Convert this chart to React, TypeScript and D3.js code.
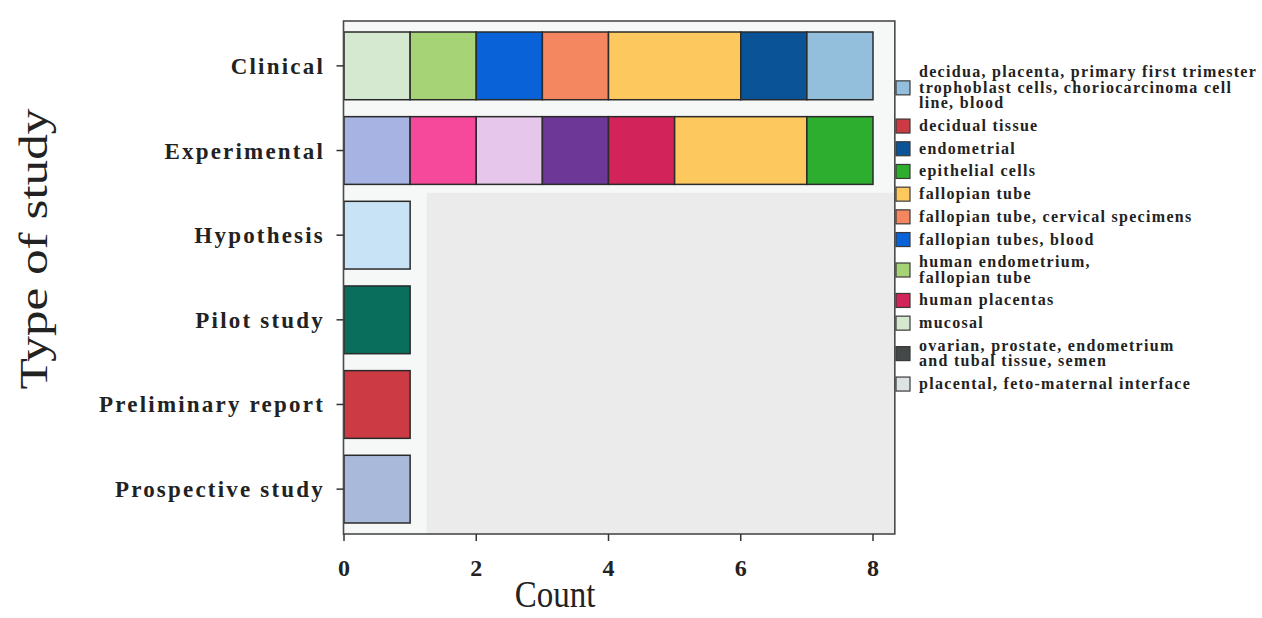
import React from "react";
import * as d3 from "d3";

// ---- data ----
const studyTypes = [
  "Clinical",
  "Experimental",
  "Hypothesis",
  "Pilot study",
  "Preliminary report",
  "Prospective study",
];

const clinicalTissues = [
  "mucosal",
  "human endometrium, fallopian tube",
  "fallopian tubes, blood",
  "fallopian tube, cervical specimens",
  "fallopian tube",
  "endometrial",
  "decidua, placenta, primary first trimester trophoblast cells, choriocarcinoma cell line, blood",
];
const clinicalCounts = [1, 1, 1, 1, 2, 1, 1];

const experimentalTissues = [
  "unlisted-1",
  "unlisted-2",
  "unlisted-3",
  "unlisted-4",
  "human placentas",
  "fallopian tube",
  "epithelial cells",
];
const experimentalCounts = [1, 1, 1, 1, 1, 2, 1];

const hypothesisTissues = ["unlisted-5"];
const hypothesisCounts = [1];
const pilotTissues = ["unlisted-6"];
const pilotCounts = [1];
const preliminaryTissues = ["decidual tissue"];
const preliminaryCounts = [1];
const prospectiveTissues = ["unlisted-7"];
const prospectiveCounts = [1];

const tissueKeys = [
  "decidua, placenta, primary first trimester trophoblast cells, choriocarcinoma cell line, blood",
  "decidual tissue",
  "endometrial",
  "epithelial cells",
  "fallopian tube",
  "fallopian tube, cervical specimens",
  "fallopian tubes, blood",
  "human endometrium, fallopian tube",
  "human placentas",
  "mucosal",
  "ovarian, prostate, endometrium and tubal tissue, semen",
  "placental, feto-maternal interface",
  "unlisted-1",
  "unlisted-2",
  "unlisted-3",
  "unlisted-4",
  "unlisted-5",
  "unlisted-6",
  "unlisted-7",
];
const tissueColors = [
  "#93bfdc",
  "#cc3a44",
  "#0a5396",
  "#2eae2e",
  "#fdc85e",
  "#f48660",
  "#0962d8",
  "#a7d377",
  "#d2245a",
  "#d5e9d0",
  "#444848",
  "#dde3e5",
  "#a7b3e2",
  "#f7499c",
  "#e6c6ea",
  "#6c3797",
  "#c8e3f6",
  "#0a6e5c",
  "#a9b9da",
];

// legend (as shown, wrapped)
const legendKeys = tissueKeys.slice(0, 12);
const legendLines = [
  ["decidua, placenta, primary first trimester", "trophoblast cells, choriocarcinoma cell", "line, blood"],
  ["decidual tissue"],
  ["endometrial"],
  ["epithelial cells"],
  ["fallopian tube"],
  ["fallopian tube, cervical specimens"],
  ["fallopian tubes, blood"],
  ["human endometrium,", "fallopian tube"],
  ["human placentas"],
  ["mucosal"],
  ["ovarian, prostate, endometrium", "and tubal tissue, semen"],
  ["placental, feto-maternal interface"],
];

const xTicks = [0, 2, 4, 6, 8];
const xTitle = "Count";
const yTitle = "Type of study";

const rows = [
  { study: studyTypes[0], tissues: clinicalTissues, counts: clinicalCounts },
  { study: studyTypes[1], tissues: experimentalTissues, counts: experimentalCounts },
  { study: studyTypes[2], tissues: hypothesisTissues, counts: hypothesisCounts },
  { study: studyTypes[3], tissues: pilotTissues, counts: pilotCounts },
  { study: studyTypes[4], tissues: preliminaryTissues, counts: preliminaryCounts },
  { study: studyTypes[5], tissues: prospectiveTissues, counts: prospectiveCounts },
];

const SERIF = "'Liberation Serif', 'Times New Roman', serif";

export default function App() {
  const W = 1262;
  const H = 618;
  const panelTop = 21;
  const panelBottom = 534;

  const x = d3.scaleLinear().domain([0, 8]).range([344, 873]);
  const panelLeft = x(0) - 0.5;
  const panelRight = x(8.33);
  const y = d3
    .scaleBand<string>()
    .domain(studyTypes)
    .range([panelTop, panelBottom])
    .paddingInner(0.2)
    .paddingOuter(0.13);
  const color = d3.scaleOrdinal<string, string>().domain(tissueKeys).range(tissueColors);

  const segments = rows.flatMap((r) => {
    const ends = d3.cumsum(r.counts);
    return r.tissues.map((t, i) => ({
      study: r.study,
      tissue: t,
      x0: ends[i] - r.counts[i],
      x1: ends[i],
    }));
  });

  const grayTop = (y(studyTypes[2]) as number) - (y.step() * 0.2) / 2;

  // legend layout
  const lineH = 15.5;
  const singleH = 22.7;
  let cursor = 61;
  const legendItems = legendKeys.map((k, i) => {
    const n = legendLines[i].length;
    const h = singleH + (n - 1) * lineH;
    const cy = cursor + h / 2;
    cursor += h;
    return { key: k, lines: legendLines[i], cy };
  });

  return (
    <svg width={W} height={H} style={{ display: "block", position: "absolute", left: 0, top: 0 }}>
      <rect x={0} y={0} width={W} height={H} fill="#ffffff" />
      {/* panel */}
      <rect x={panelLeft} y={panelTop} width={panelRight - panelLeft} height={panelBottom - panelTop} fill="#f6f8f8" />
      <rect x={x(1.25)} y={grayTop} width={panelRight - x(1.25)} height={panelBottom - grayTop} fill="#ebebeb" />

      {/* bars */}
      {segments.map((s, i) => (
        <rect
          key={i}
          x={x(s.x0)}
          y={y(s.study)}
          width={x(s.x1) - x(s.x0)}
          height={y.bandwidth()}
          fill={color(s.tissue)}
          stroke="#2a2a2a"
          strokeWidth={1.5}
        />
      ))}

      <rect
        x={panelLeft}
        y={panelTop}
        width={panelRight - panelLeft}
        height={panelBottom - panelTop}
        fill="none"
        stroke="#4a4a4a"
        strokeWidth={1.6}
      />

      {/* x axis */}
      {xTicks.map((t) => (
        <g key={t}>
          <line x1={x(t)} x2={x(t)} y1={panelBottom} y2={panelBottom + 7} stroke="#333" strokeWidth={1.5} />
          <text
            x={x(t)}
            y={576}
            textAnchor="middle"
            fontFamily={SERIF}
            fontWeight="bold"
            fontSize={24}
            fill="#222"
          >
            {t}
          </text>
        </g>
      ))}
      <text
        x={0}
        y={0}
        transform={`translate(555, 607) scale(1, 1.15)`}
        textAnchor="middle"
        fontFamily={SERIF}
        fontSize={33}
        fill="#222"
      >
        {xTitle}
      </text>

      {/* y axis */}
      {studyTypes.map((s) => {
        const cy = (y(s) as number) + y.bandwidth() / 2;
        return (
          <g key={s}>
            <line x1={panelLeft - 7} x2={panelLeft} y1={cy} y2={cy} stroke="#333" strokeWidth={1.5} />
            <text
              x={325}
              y={cy + 8}
              textAnchor="end"
              fontFamily={SERIF}
              fontWeight="bold"
              fontSize={23}
              letterSpacing={2.2}
              fill="#222"
            >
              {s}
            </text>
          </g>
        );
      })}
      <text
        x={0}
        y={0}
        transform={`translate(47, 249) rotate(-90) scale(1.28, 1)`}
        textAnchor="middle"
        fontFamily={SERIF}
        fontSize={40}
        fill="#222"
      >
        {yTitle}
      </text>

      {/* legend */}
      {legendItems.map((it) => (
        <g key={it.key}>
          <rect
            x={896}
            y={it.cy - 7}
            width={14}
            height={14}
            fill={color(it.key)}
            stroke="#3a3a3a"
            strokeWidth={1.2}
          />
          {it.lines.map((ln, j) => (
            <text
              key={j}
              x={919}
              y={it.cy + (j - (it.lines.length - 1) / 2) * lineH + 5}
              fontFamily={SERIF}
              fontWeight="bold"
              fontSize={16}
              letterSpacing={1.3}
              fill="#222"
            >
              {ln}
            </text>
          ))}
        </g>
      ))}
    </svg>
  );
}
